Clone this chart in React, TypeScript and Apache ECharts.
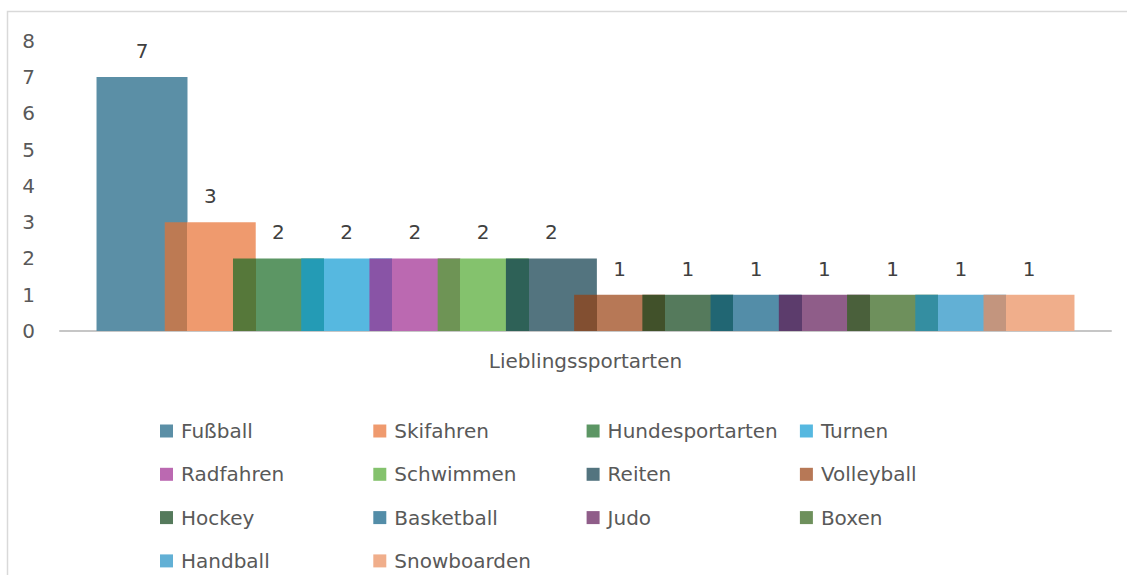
import React, { useEffect, useRef } from "react";
import * as echarts from "echarts";

const categories = ["Lieblingssportarten"];
const seriesNames = [
  "Fußball", "Skifahren", "Hundesportarten", "Turnen", "Radfahren", "Schwimmen", "Reiten",
  "Volleyball", "Hockey", "Basketball", "Judo", "Boxen", "Handball", "Snowboarden",
];
const values = [7, 3, 2, 2, 2, 2, 2, 1, 1, 1, 1, 1, 1, 1];
const mainColors = [
  "#5b8fa6", "#ef9a6e", "#5c9664", "#56b8e0", "#bb69b1", "#84c26d", "#53747f",
  "#b77856", "#557a5c", "#538da8", "#8f5d89", "#6e905c", "#62b0d5", "#f0ae8b",
];
const overlapColors = [
  "#5b8fa6", "#bd7a53", "#56783a", "#249bb5", "#8954a6", "#6e9455", "#2e6157",
  "#824f31", "#41512a", "#216673", "#5c3c6c", "#4a603b", "#348ea1", "#c3957e",
];
const yMin = 0;
const yMax = 8;
const yInterval = 1;

const FONT = "DejaVu Sans";

export default function App() {
  const ref = useRef<HTMLDivElement>(null);
  useEffect(() => {
    if (!ref.current) return;
    const chart = echarts.init(ref.current, undefined, { renderer: "svg" });
    const series = seriesNames.map((name, i) => ({
      type: "bar",
      name,
      data: [values[i]],
      barGap: "-25%",
      barCategoryGap: "6.95%",
      itemStyle: {
        color:
          i === 0
            ? mainColors[i]
            : new echarts.graphic.LinearGradient(0, 0, 1, 0, [
                { offset: 0, color: overlapColors[i] },
                { offset: 0.25, color: overlapColors[i] },
                { offset: 0.25, color: mainColors[i] },
                { offset: 1, color: mainColors[i] },
              ]),
      },
      label: {
        show: true,
        position: "top",
        distance: 16,
        color: "#404040",
        fontSize: 20,
        fontFamily: FONT,
      },
    }));
    chart.setOption({
      animation: false,
      backgroundColor: "#ffffff",
      graphic: [
        {
          type: "rect",
          shape: { x: 7.5, y: 11.5, width: 1300, height: 800 },
          style: { fill: "none", stroke: "#d9d9d9", lineWidth: 1.5 },
          z: 0,
          silent: true,
        },
      ],
      grid: { left: 60, right: 16, top: 40.7, bottom: 244, containLabel: false },
      legend: {
        data: seriesNames.map((n, i) => ({ name: n, itemStyle: { color: mainColors[i] } })),
        icon: "rect",
        itemWidth: 13,
        itemHeight: 13,
        left: 160,
        top: 413,
        width: 860,
        itemGap: 7.3,
        padding: 0,
        formatter: "{a|{name}}",
        textStyle: {
          fontSize: 20,
          lineHeight: 36,
          height: 36,
          color: "#595959",
          fontFamily: FONT,
          rich: {
            a: {
              width: 185,
              height: 36,
              lineHeight: 36,
              padding: [0, 0, 0, 3],
              fontSize: 20,
              color: "#595959",
              fontFamily: FONT,
            },
          },
        },
      },
      xAxis: {
        type: "category",
        data: categories,
        axisLine: { lineStyle: { color: "#c6c6c6", width: 2 } },
        axisTick: { show: false },
        axisLabel: { margin: 20, fontSize: 20, color: "#595959", fontFamily: FONT },
      },
      yAxis: {
        type: "value",
        min: yMin,
        max: yMax,
        interval: yInterval,
        splitLine: { show: false },
        axisLine: { show: false },
        axisTick: { show: false },
        axisLabel: { margin: 25, fontSize: 20, color: "#595959", fontFamily: FONT },
      },
      series,
    });
    return () => chart.dispose();
  }, []);
  return (
    <div
      ref={ref}
      style={{ position: "fixed", left: 0, top: 0, width: 1127, height: 575 }}
    />
  );
}
